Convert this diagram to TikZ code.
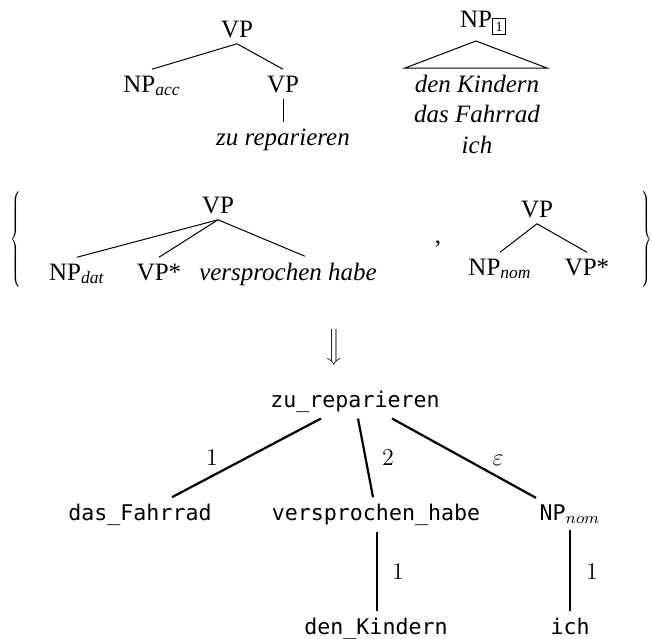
\documentclass[tikz,border=0pt]{standalone}
\usepackage[no-math]{fontspec}
\setmainfont{Liberation Serif}
\setmonofont{DejaVu Sans Mono}
\usetikzlibrary{calc}

\newcommand{\boxidx}[1]{\rlap{\raisebox{-2pt}{\setlength{\fboxsep}{1.4pt}\fbox{\scriptsize #1}}}}

\begin{document}
\begin{tikzpicture}[x=0.5pt,y=-0.5pt,
  cat/.style={anchor=base,inner sep=3pt,font=\fontsize{12.5}{15}\selectfont},
  dep/.style={anchor=base,inner sep=3pt,font=\fontsize{10.8}{13}\selectfont\ttfamily},
  lbl/.style={inner sep=0pt,font=\fontsize{12.5}{15}\selectfont},
  thin tree/.style={line width=0.5pt},
  thick tree/.style={line width=1.1pt}]
\useasboundingbox (0,0) rectangle (652,638);

% elementary trees
\node[cat] (vpA) at (237,37) {VP};
\node[cat] (npAcc) at (152,92) {NP\textsubscript{\textit{acc}}};
\node[cat] (vpB) at (283,92) {VP};
\node[cat] (zuRep) at (283,145) {\textit{zu reparieren}};
\draw[thin tree] (vpA.south) -- (npAcc.north);
\draw[thin tree] (vpA.south) -- (vpB.north);
\draw[thin tree] (vpB.south) -- (zuRep.north);

\node[cat] (npOne) at (476,27) {NP\boxidx{1}};
\coordinate (triL) at (405,68);
\coordinate (triR) at (547,68);
\draw[thin tree] (triL) -- (npOne.south) -- (triR) -- cycle;
\node[cat] (kidsA) at (477,92) {\textit{den Kindern}};
\node[cat] (kidsB) at (477,122) {\textit{das Fahrrad}};
\node[cat] (kidsC) at (477,153) {\textit{ich}};

% auxiliary trees in braces
\node[inner sep=0pt] (lbrace) at (17,240) {\scalebox{0.6}[1]{$\left\{\vrule height 22pt depth 22pt width 0pt\right.$}};
\node[inner sep=0pt] (rbrace) at (646,240) {\scalebox{0.6}[1]{$\left.\vrule height 22pt depth 22pt width 0pt\right\}$}};

\node[cat] (vpC) at (218,213) {VP};
\node[cat] (npDat) at (77,280) {NP\textsubscript{\textit{dat}}};
\node[cat] (vpStarA) at (159,280) {VP*};
\node[cat] (verspr) at (288,280) {\textit{versprochen habe}};
\draw[thin tree] (vpC.south) -- (npDat.north);
\draw[thin tree] (vpC.south) -- (vpStarA.north);
\draw[thin tree] (vpC.south) -- ([xshift=8.5pt]verspr.north);

\node[cat] (sep) at (438,243) {,};

\node[cat] (vpD) at (537,217) {VP};
\node[cat] (npNomA) at (500,275) {NP\textsubscript{\textit{nom}}};
\node[cat] (vpStarB) at (587,275) {VP*};
\draw[thin tree] (vpD.south) -- (npNomA.north);
\draw[thin tree] (vpD.south) -- (vpStarB.north);

\node[inner sep=0pt] (impl) at (334,347) {$\Big\Downarrow$};

% derivation tree
\node[dep] (zuR) at (355,407) {zu\_reparieren};
\node[dep] (fahr) at (140,520) {das\_Fahrrad};
\node[dep] (versH) at (376,520) {versprochen\_habe};
\node[dep] (npN) at (570,520) {NP$_{nom}$};
\node[dep] (denK) at (376,634) {den\_Kindern};
\node[dep] (ich) at (570,634) {ich};

\draw[thick tree] ([xshift=-17pt]zuR.south) -- ([xshift=16pt]fahr.north);
\draw[thick tree] ([xshift=1.5pt]zuR.south) -- ([xshift=-1.5pt]versH.north);
\draw[thick tree] ([xshift=18.5pt]zuR.south) -- ([xshift=-17pt]npN.north);
\draw[thick tree] ([xshift=0.5pt]versH.south) -- ([xshift=0.5pt]denK.north);
\draw[thick tree] (npN.south) -- (ich.north);

\node[lbl] (gA) at (212,458) {$1$};
\node[lbl] (gB) at (388,458) {$2$};
\node[lbl] (gC) at (498,460) {$\varepsilon$};
\node[lbl] (gD) at (398,572) {$1$};
\node[lbl] (gE) at (592,572) {$1$};

\end{tikzpicture}
\end{document}
